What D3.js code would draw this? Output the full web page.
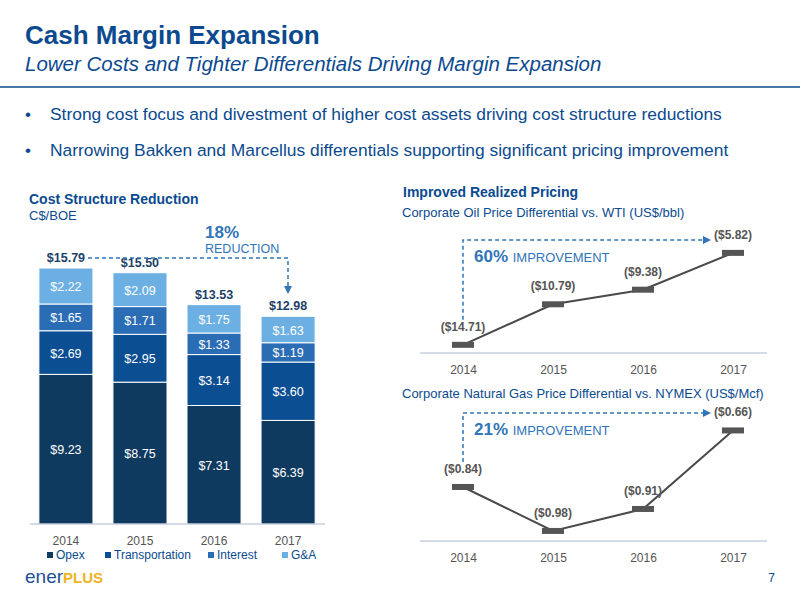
<!DOCTYPE html><html><head><meta charset="utf-8"><script src="https://cdn.jsdelivr.net/npm/d3@7"></script>
<style>body{margin:0;background:#fff}text{font-family:"Liberation Sans",Arial,sans-serif}</style></head><body><svg id="c" width="800" height="600"></svg><script>
const years=["2014","2015","2016","2017"];
const seriesNames=["Opex","Transportation","Interest","G&A"];
const opex=[9.23,8.75,7.31,6.39];
const transportation=[2.69,2.95,3.14,3.60];
const interest=[1.65,1.71,1.33,1.19];
const ga=[2.22,2.09,1.75,1.63];
const totals=["$15.79","$15.50","$13.53","$12.98"];
const oilDiff=[-14.71,-10.79,-9.38,-5.82];
const gasDiff=[-0.84,-0.98,-0.91,-0.66];
const colors=["#0f3a5f","#0c4e92","#2b6db4","#6cb0e3"];
const blue="#0b4a8f", dash="#2f75b8";
const svg=d3.select("#c");
svg.append("text").attr("x",25).attr("y",44).attr("font-size",26).attr("font-weight","bold").attr("fill",blue).text("Cash Margin Expansion");
svg.append("text").attr("x",25).attr("y",71).attr("font-size",20.5).attr("font-style","italic").attr("fill",blue).text("Lower Costs and Tighter Differentials Driving Margin Expansion");
svg.append("line").attr("x1",0).attr("x2",800).attr("y1",87).attr("y2",87).attr("stroke",blue).attr("stroke-width",1.5);
[["Strong cost focus and divestment of higher cost assets driving cost structure reductions",120],["Narrowing Bakken and Marcellus differentials supporting significant pricing improvement",156]].forEach(([t,y])=>{
 svg.append("text").attr("x",25).attr("y",y).attr("font-size",17).attr("fill",blue).text("•");
 svg.append("text").attr("x",50).attr("y",y).attr("font-size",17.4).attr("fill",blue).text(t);});
svg.append("text").attr("x",29).attr("y",204).attr("font-size",14).attr("font-weight","bold").attr("fill",blue).text("Cost Structure Reduction");
svg.append("text").attr("x",29).attr("y",220).attr("font-size",13).attr("fill",blue).text("C$/BOE");
const x=d3.scaleBand().domain(years).range([30,324]).paddingInner(0.27).paddingOuter(0.12);
const y=d3.scaleLinear().domain([0,15.79]).range([524,268]);
const data=years.map((yr,i)=>({yr,Opex:opex[i],Transportation:transportation[i],Interest:interest[i],"G&A":ga[i]}));
const stack=d3.stack().keys(seriesNames)(data);
stack.forEach((s,k)=>{
 const g=svg.append("g");
 g.selectAll("rect").data(s).join("rect").attr("x",d=>x(d.data.yr)).attr("width",x.bandwidth())
  .attr("y",d=>y(d[1])).attr("height",d=>y(d[0])-y(d[1])).attr("fill",colors[k]).attr("stroke","#fff").attr("stroke-width",1);
 g.selectAll("text").data(s).join("text").attr("x",d=>x(d.data.yr)+x.bandwidth()/2).attr("y",d=>(y(d[0])+y(d[1]))/2+5)
  .attr("text-anchor","middle").attr("font-size",12.5).attr("fill","#fff").text(d=>"$"+(d[1]-d[0]).toFixed(2));
});
svg.selectAll(".tot").data(years).join("text").attr("x",d=>x(d)+x.bandwidth()/2).attr("y",(d,i)=>y(d3.sum([opex[i],transportation[i],interest[i],ga[i]]))-6)
 .attr("text-anchor","middle").attr("font-size",12.5).attr("font-weight","bold").attr("fill","#1d3f66").text((d,i)=>totals[i]);
const xa=svg.append("g").attr("transform","translate(0,524)").call(d3.axisBottom(x).tickSize(0).tickPadding(12));
xa.select(".domain").attr("stroke","#a9b8d0").attr("d","M30,0H325");
xa.selectAll("text").attr("font-size",12).attr("fill","#555");
seriesNames.forEach((n,i)=>{const lx=[47,105,208,282][i];
 svg.append("rect").attr("x",lx).attr("y",552).attr("width",6).attr("height",6).attr("fill",colors[i]);
 svg.append("text").attr("x",lx+9).attr("y",559).attr("font-size",12).attr("fill",blue).text(n);});
svg.append("path").attr("d","M88,258H288V286").attr("fill","none").attr("stroke",dash).attr("stroke-width",1.5).attr("stroke-dasharray","4,3");
svg.append("path").attr("d","M284,286L292,286L288,294Z").attr("fill",dash);
svg.append("text").attr("x",205).attr("y",238).attr("font-size",17).attr("font-weight","bold").attr("fill",dash).text("18%");
svg.append("text").attr("x",205).attr("y",253).attr("font-size",12.5).attr("fill",dash).text("REDUCTION");
svg.append("text").attr("x",403).attr("y",197).attr("font-size",14).attr("font-weight","bold").attr("fill",blue).text("Improved Realized Pricing");
function lineChart(vals,yDom,yRange,base,title,titleY,pct,annY){
 svg.append("text").attr("x",402).attr("y",titleY).attr("font-size",13).attr("fill",blue).text(title);
 const lx=d3.scalePoint().domain(years).range([463,733]);
 const ly=d3.scaleLinear().domain(yDom).range(yRange);
 const ax=svg.append("g").attr("transform",`translate(0,${base})`).call(d3.axisBottom(lx).tickSize(0).tickPadding(12));
 ax.select(".domain").attr("stroke","#a9b8d0").attr("d","M420,0H767");
 ax.selectAll("text").attr("font-size",12).attr("fill","#555");
 svg.append("path").attr("d",`M463,${ly(vals[0])-25}V${annY}H705`).attr("fill","none").attr("stroke",dash).attr("stroke-width",1.5).attr("stroke-dasharray","4,3");
 svg.append("path").attr("d",`M703,${annY-4}L711,${annY}L703,${annY+4}Z`).attr("fill",dash);
 const t=svg.append("text").attr("x",474).attr("y",annY+22).attr("fill",dash);
 t.append("tspan").attr("font-size",17).attr("font-weight","bold").text(pct+" ");
 t.append("tspan").attr("font-size",13).text("IMPROVEMENT");
 svg.append("path").datum(vals).attr("d",d3.line().x((d,i)=>lx(years[i])).y(d=>ly(d))).attr("fill","none").attr("stroke","#4a4a4a").attr("stroke-width",2);
 svg.selectAll(null).data(vals).join("rect").attr("x",(d,i)=>lx(years[i])-11).attr("y",d=>ly(d)-3).attr("width",22).attr("height",6).attr("fill","#555");
 svg.selectAll(null).data(vals).join("text").attr("x",(d,i)=>lx(years[i])).attr("y",d=>ly(d)-14).attr("text-anchor","middle")
  .attr("font-size",12).attr("font-weight","bold").attr("fill","#555").text(d=>"($"+(-d).toFixed(2)+")");
}
lineChart(oilDiff,[-15.5,-5],[353,244.4],353,"Corporate Oil Price Differential vs. WTI (US$/bbl)",217,"60%",240);
lineChart(gasDiff,[-1.012,-0.6],[541,411.6],541,"Corporate Natural Gas Price Differential vs. NYMEX (US$/Mcf)",398,"21%",413);
const lg=svg.append("text").attr("x",25).attr("y",583).attr("font-size",19);
lg.append("tspan").attr("fill","#1f4f95").text("ener");
lg.append("tspan").attr("fill","#f0b323").attr("font-weight","bold").attr("font-size",15).text("PLUS");
svg.append("text").attr("x",775).attr("y",582).attr("font-size",12).attr("text-anchor","end").attr("fill",blue).text("7");
</script></body></html>
